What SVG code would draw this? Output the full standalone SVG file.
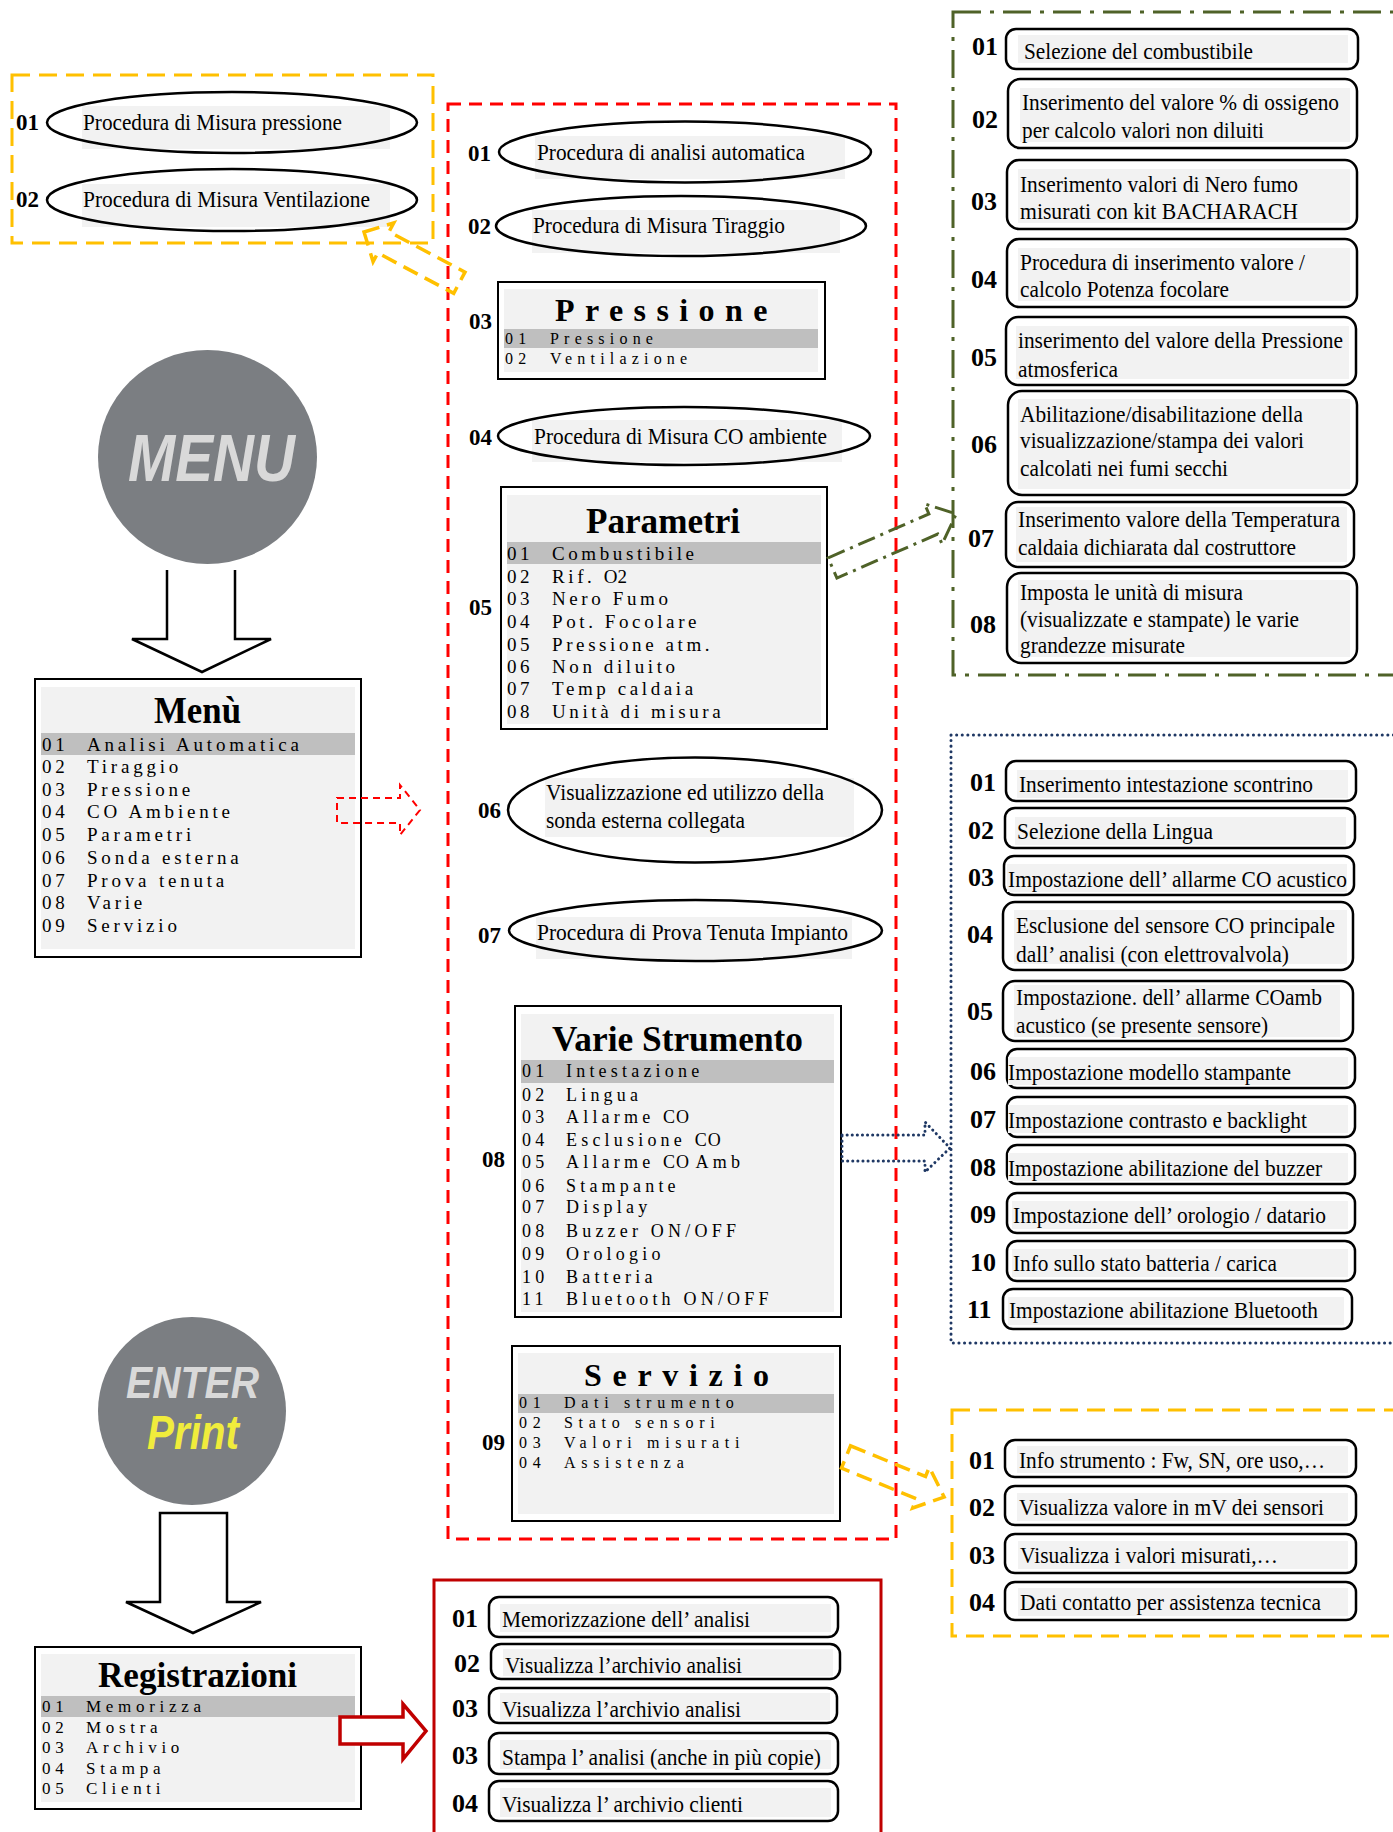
<svg xmlns="http://www.w3.org/2000/svg" width="1393" height="1832" viewBox="0 0 1393 1832">
<style>
.lbl{font-family:"Liberation Serif",serif;font-weight:bold;font-size:26px;fill:#000}
.lbs{font-family:"Liberation Serif",serif;font-weight:bold;font-size:23px;fill:#000}
.t{font-family:"Liberation Serif",serif;font-size:24px;fill:#000}
.box{fill:#fff;stroke:#000;stroke-width:2.5}
.tbg{fill:#f2f2f2}
.ellf{fill:#fff}
.ells{fill:none;stroke:#000;stroke-width:2.5}
.scr{fill:#fff;stroke:#000;stroke-width:2}
.hl{fill:#bfbfbf}
.row{font-family:"Liberation Serif",serif;fill:#000}
.ttl{font-family:"Liberation Serif",serif;font-weight:bold;fill:#000}
.ydash{fill:none;stroke:#FFC000;stroke-width:3;stroke-dasharray:18 9}
.rdash{fill:none;stroke:#FF0000;stroke-width:3;stroke-dasharray:13 8}
.gdd{fill:none;stroke:#4F6228;stroke-width:3;stroke-dasharray:28 9 4 9}
.bdot{fill:none;stroke:#1F3864;stroke-width:3;stroke-dasharray:0.1 5.5;stroke-linecap:round}
.btn{fill:#7b7e82}
.btxt{font-family:"Liberation Sans",sans-serif;font-weight:bold;font-style:italic}
</style>

<!-- container frames -->
<g id="frame-pressione-sub"><rect class="ydash" x="12" y="75" width="421" height="168"/></g>
<g id="frame-menu-items"><rect class="rdash" x="448" y="104" width="448" height="1435"/></g>
<g id="frame-parametri-sub"><rect class="gdd" x="953" y="12" width="470" height="663"/></g>
<g id="frame-varie-sub"><rect class="bdot" x="951" y="735" width="470" height="608"/></g>
<g id="frame-servizio-sub"><rect class="ydash" x="952" y="1410" width="470" height="226"/></g>
<g id="frame-registrazioni-sub"><rect fill="none" stroke="#C00000" stroke-width="3" x="434" y="1580" width="447" height="280"/></g>

<!-- top-left yellow: pressione sub-items -->
<g id="p01">
<ellipse class="ellf" cx="232" cy="122.5" rx="185" ry="30.5"/><rect class="tbg" x="82" y="106" width="308" height="43"/><ellipse class="ells" cx="232" cy="122.5" rx="185" ry="30.5"/>
<text class="t" x="83" y="130" textLength="259" lengthAdjust="spacingAndGlyphs">Procedura di Misura pressione</text>
<text class="lbs" x="16" y="130">01</text></g>
<g id="p02">
<ellipse class="ellf" cx="232" cy="200" rx="185" ry="31"/><rect class="tbg" x="82" y="184" width="308" height="43"/><ellipse class="ells" cx="232" cy="200" rx="185" ry="31"/>
<text class="t" x="83" y="207" textLength="287" lengthAdjust="spacingAndGlyphs">Procedura di Misura Ventilazione</text>
<text class="lbs" x="16" y="207">02</text></g>

<!-- MENU button -->
<g id="menu-button">
<ellipse class="btn" cx="207.5" cy="457" rx="109.5" ry="107"/>
<text class="btxt" x="128" y="481" font-size="66" fill="#d9d9d9" textLength="167" lengthAdjust="spacingAndGlyphs">MENU</text>
</g>

<!-- Menu screen -->
<g id="menu-screen">
<rect class="scr" x="35" y="679" width="326" height="278"/>
<rect class="tbg" x="41" y="687" width="314" height="262"/>
<rect class="hl" x="41" y="733" width="314" height="22"/>
<text class="ttl" x="154" y="723" font-size="37" textLength="87" lengthAdjust="spacingAndGlyphs">Menù</text>
<g class="row" font-size="19" letter-spacing="3.8">
<text x="42" y="751">01</text><text x="87" y="751">Analisi Automatica</text>
<text x="42" y="773">02</text><text x="87" y="773">Tiraggio</text>
<text x="42" y="796">03</text><text x="87" y="796">Pressione</text>
<text x="42" y="818">04</text><text x="87" y="818">CO  Ambiente</text>
<text x="42" y="841">05</text><text x="87" y="841">Parametri</text>
<text x="42" y="864">06</text><text x="87" y="864">Sonda  esterna</text>
<text x="42" y="887">07</text><text x="87" y="887">Prova tenuta</text>
<text x="42" y="909">08</text><text x="87" y="909">Varie</text>
<text x="42" y="932">09</text><text x="87" y="932">Servizio</text>
</g>
</g>

<!-- ENTER button -->
<g id="enter-button">
<circle class="btn" cx="192" cy="1411" r="94"/>
<text class="btxt" x="126" y="1398" font-size="44" fill="#d9d9d9" textLength="133" lengthAdjust="spacingAndGlyphs">ENTER</text>
<text class="btxt" x="147" y="1449" font-size="48" fill="#f0ec3c" textLength="92" lengthAdjust="spacingAndGlyphs">Print</text>
</g>

<!-- Registrazioni screen -->
<g id="registrazioni-screen">
<rect class="scr" x="35" y="1647" width="326" height="162"/>
<rect class="tbg" x="41" y="1654" width="314" height="148"/>
<rect class="hl" x="41" y="1696" width="314" height="21"/>
<text class="ttl" x="98" y="1687" font-size="35" textLength="199" lengthAdjust="spacingAndGlyphs">Registrazioni</text>
<g class="row" font-size="17" letter-spacing="4.7">
<text x="42" y="1712">01</text><text x="86" y="1712">Memorizza</text>
<text x="42" y="1733">02</text><text x="86" y="1733">Mostra</text>
<text x="42" y="1753">03</text><text x="86" y="1753">Archivio</text>
<text x="42" y="1774">04</text><text x="86" y="1774">Stampa</text>
<text x="42" y="1794">05</text><text x="86" y="1794">Clienti</text>
</g>
</g>

<!-- red column items -->
<g id="m01">
<ellipse class="ellf" cx="685" cy="152" rx="186" ry="30.5"/><rect class="tbg" x="535" y="136" width="310" height="43"/><ellipse class="ells" cx="685" cy="152" rx="186" ry="30.5"/>
<text class="t" x="537" y="160" textLength="268" lengthAdjust="spacingAndGlyphs">Procedura di analisi automatica</text>
<text class="lbs" x="468" y="161">01</text></g>
<g id="m02">
<ellipse class="ellf" cx="681" cy="226" rx="185" ry="30"/><rect class="tbg" x="532" y="210" width="308" height="43"/><ellipse class="ells" cx="681" cy="226" rx="185" ry="30"/>
<text class="t" x="533" y="233" textLength="252" lengthAdjust="spacingAndGlyphs">Procedura di Misura Tiraggio</text>
<text class="lbs" x="468" y="234">02</text></g>
<g id="m03-pressione">
<rect class="scr" x="498" y="282" width="327" height="97"/>
<rect class="tbg" x="504" y="289" width="314" height="83"/>
<rect class="hl" x="504" y="329" width="314" height="19"/>
<text class="ttl" x="555" y="321" font-size="32" letter-spacing="10.4">Pressione</text>
<g class="row" font-size="16" letter-spacing="5.2">
<text x="505" y="344">01</text><text x="550" y="344">Pressione</text>
<text x="505" y="364">02</text><text x="550" y="364">Ventilazione</text>
</g>
<text class="lbs" x="469" y="329">03</text></g>
<g id="m04">
<ellipse class="ellf" cx="684" cy="436" rx="186" ry="29"/><rect class="tbg" x="532" y="420" width="310" height="42"/><ellipse class="ells" cx="684" cy="436" rx="186" ry="29"/>
<text class="t" x="534" y="444" textLength="293" lengthAdjust="spacingAndGlyphs">Procedura di Misura CO ambiente</text>
<text class="lbs" x="469" y="445">04</text></g>
<g id="m05-parametri">
<rect class="scr" x="501" y="487" width="326" height="242"/>
<rect class="tbg" x="507" y="495" width="314" height="229"/>
<rect class="hl" x="507" y="542" width="314" height="22"/>
<text class="ttl" x="586" y="533" font-size="36" textLength="154" lengthAdjust="spacingAndGlyphs">Parametri</text>
<g class="row" font-size="19" letter-spacing="3.6">
<text x="507" y="560">01</text><text x="552" y="560">Combustibile</text>
<text x="507" y="583">02</text><text x="552" y="583">Rif.  <tspan letter-spacing="0">O2</tspan></text>
<text x="507" y="605">03</text><text x="552" y="605">Nero Fumo</text>
<text x="507" y="628">04</text><text x="552" y="628">Pot. Focolare</text>
<text x="507" y="651">05</text><text x="552" y="651">Pressione atm.</text>
<text x="507" y="673">06</text><text x="552" y="673">Non  diluito</text>
<text x="507" y="695">07</text><text x="552" y="695">Temp caldaia</text>
<text x="507" y="718">08</text><text x="552" y="718">Unità di misura</text>
</g>
<text class="lbs" x="469" y="615">05</text></g>
<g id="m06">
<ellipse class="ellf" cx="695" cy="810" rx="187" ry="52.5"/><rect class="tbg" x="545" y="778" width="309" height="59"/><ellipse class="ells" cx="695" cy="810" rx="187" ry="52.5"/>
<text class="t" x="546" y="800" textLength="278" lengthAdjust="spacingAndGlyphs">Visualizzazione ed utilizzo della</text>
<text class="t" x="546" y="828" textLength="199" lengthAdjust="spacingAndGlyphs">sonda esterna collegata</text>
<text class="lbs" x="478" y="818">06</text></g>
<g id="m07">
<ellipse class="ellf" cx="695.5" cy="930.5" rx="186.5" ry="30.5"/><rect class="tbg" x="536" y="917" width="316" height="42"/><ellipse class="ells" cx="695.5" cy="930.5" rx="186.5" ry="30.5"/>
<text class="t" x="537" y="940" textLength="311" lengthAdjust="spacingAndGlyphs">Procedura di Prova Tenuta Impianto</text>
<text class="lbs" x="478" y="943">07</text></g>
<g id="m08-varie">
<rect class="scr" x="515" y="1006" width="326" height="311"/>
<rect class="tbg" x="521" y="1014" width="313" height="298"/>
<rect class="hl" x="521" y="1060" width="313" height="23"/>
<text class="ttl" x="552" y="1051" font-size="36" textLength="251" lengthAdjust="spacingAndGlyphs">Varie Strumento</text>
<g class="row" font-size="18" letter-spacing="4.2">
<text x="522" y="1077">01</text><text x="566" y="1077">Intestazione</text>
<text x="522" y="1101">02</text><text x="566" y="1101">Lingua</text>
<text x="522" y="1123">03</text><text x="566" y="1123">Allarme  <tspan letter-spacing="1">CO</tspan></text>
<text x="522" y="1146">04</text><text x="566" y="1146">Esclusione  <tspan letter-spacing="1">CO</tspan></text>
<text x="522" y="1168">05</text><text x="566" y="1168">Allarme <tspan letter-spacing="1">CO </tspan>Amb</text>
<text x="522" y="1192">06</text><text x="566" y="1192">Stampante</text>
<text x="522" y="1213">07</text><text x="566" y="1213">Display</text>
<text x="522" y="1237">08</text><text x="566" y="1237">Buzzer ON/OFF</text>
<text x="522" y="1260">09</text><text x="566" y="1260">Orologio</text>
<text x="522" y="1283">10</text><text x="566" y="1283">Batteria</text>
<text x="522" y="1305">11</text><text x="566" y="1305">Bluetooth ON/OFF</text>
</g>
<text class="lbs" x="482" y="1167">08</text></g>
<g id="m09-servizio">
<rect class="scr" x="512" y="1346" width="328" height="175"/>
<rect class="tbg" x="518" y="1353" width="316" height="161"/>
<rect class="hl" x="518" y="1394" width="316" height="19"/>
<text class="ttl" x="584" y="1386" font-size="32" letter-spacing="10.7">Servizio</text>
<g class="row" font-size="16" letter-spacing="5.7">
<text x="519" y="1408">01</text><text x="564" y="1408">Dati  strumento</text>
<text x="519" y="1428">02</text><text x="564" y="1428">Stato sensori</text>
<text x="519" y="1448">03</text><text x="564" y="1448">Valori misurati</text>
<text x="519" y="1468">04</text><text x="564" y="1468">Assistenza</text>
</g>
<text class="lbs" x="482" y="1450">09</text></g>

<!-- green: parametri sub-items -->
<g id="g01"><rect class="box" x="1006" y="29" width="352" height="40" rx="10"/><rect class="tbg" x="1018" y="35" width="330" height="28"/>
<text class="t" x="1024" y="59" textLength="229" lengthAdjust="spacingAndGlyphs">Selezione del combustibile</text><text class="lbl" x="972" y="55">01</text></g>
<g id="g02"><rect class="box" x="1008" y="79" width="349" height="69" rx="12"/><rect class="tbg" x="1020" y="88" width="330" height="54"/>
<text class="t" x="1022" y="110" textLength="317" lengthAdjust="spacingAndGlyphs">Inserimento del valore % di ossigeno</text>
<text class="t" x="1022" y="138" textLength="242" lengthAdjust="spacingAndGlyphs">per calcolo valori non diluiti</text><text class="lbl" x="972" y="128">02</text></g>
<g id="g03"><rect class="box" x="1007" y="160" width="350" height="69" rx="12"/><rect class="tbg" x="1018" y="169" width="332" height="54"/>
<text class="t" x="1020" y="192" textLength="278" lengthAdjust="spacingAndGlyphs">Inserimento valori di Nero fumo</text>
<text class="t" x="1020" y="219" textLength="278" lengthAdjust="spacingAndGlyphs">misurati con kit  BACHARACH</text><text class="lbl" x="971" y="210">03</text></g>
<g id="g04"><rect class="box" x="1007" y="239" width="350" height="68" rx="12"/><rect class="tbg" x="1018" y="248" width="332" height="53"/>
<text class="t" x="1020" y="270" textLength="285" lengthAdjust="spacingAndGlyphs">Procedura di inserimento valore /</text>
<text class="t" x="1020" y="297" textLength="209" lengthAdjust="spacingAndGlyphs">calcolo Potenza focolare</text><text class="lbl" x="971" y="288">04</text></g>
<g id="g05"><rect class="box" x="1006" y="317" width="350" height="68" rx="12"/><rect class="tbg" x="1016" y="326" width="333" height="53"/>
<text class="t" x="1018" y="348" textLength="325" lengthAdjust="spacingAndGlyphs">inserimento del valore della Pressione</text>
<text class="t" x="1018" y="377" textLength="100" lengthAdjust="spacingAndGlyphs">atmosferica</text><text class="lbl" x="971" y="366">05</text></g>
<g id="g06"><rect class="box" x="1008" y="391" width="349" height="104" rx="14"/><rect class="tbg" x="1018" y="399" width="332" height="90"/>
<text class="t" x="1020" y="422" textLength="283" lengthAdjust="spacingAndGlyphs">Abilitazione/disabilitazione della</text>
<text class="t" x="1020" y="448" textLength="284" lengthAdjust="spacingAndGlyphs">visualizzazione/stampa dei valori</text>
<text class="t" x="1020" y="476" textLength="208" lengthAdjust="spacingAndGlyphs">calcolati nei fumi secchi</text><text class="lbl" x="971" y="453">06</text></g>
<g id="g07"><rect class="box" x="1006" y="502" width="348" height="65" rx="12"/><rect class="tbg" x="1016" y="507" width="331" height="55"/>
<text class="t" x="1018" y="527" textLength="322" lengthAdjust="spacingAndGlyphs">Inserimento valore della Temperatura</text>
<text class="t" x="1018" y="555" textLength="278" lengthAdjust="spacingAndGlyphs">caldaia dichiarata dal costruttore</text><text class="lbl" x="968" y="547">07</text></g>
<g id="g08"><rect class="box" x="1007" y="573" width="350" height="90" rx="14"/><rect class="tbg" x="1018" y="580" width="332" height="77"/>
<text class="t" x="1020" y="600" textLength="223" lengthAdjust="spacingAndGlyphs">Imposta le unità di misura</text>
<text class="t" x="1020" y="627" textLength="279" lengthAdjust="spacingAndGlyphs">(visualizzate e stampate) le varie</text>
<text class="t" x="1020" y="653" textLength="165" lengthAdjust="spacingAndGlyphs">grandezze misurate</text><text class="lbl" x="970" y="633">08</text></g>

<!-- blue: varie sub-items -->
<g id="v01"><rect class="box" x="1006" y="761" width="350" height="40" rx="10"/><rect class="tbg" x="1017" y="770" width="331" height="28"/>
<text class="t" x="1019" y="792" textLength="294" lengthAdjust="spacingAndGlyphs">Inserimento intestazione scontrino</text><text class="lbl" x="970" y="791">01</text></g>
<g id="v02"><rect class="box" x="1005" y="808" width="350" height="40" rx="10"/><rect class="tbg" x="1015" y="817" width="331" height="28"/>
<text class="t" x="1017" y="839" textLength="196" lengthAdjust="spacingAndGlyphs">Selezione della Lingua</text><text class="lbl" x="968" y="839">02</text></g>
<g id="v03"><rect class="box" x="1004" y="856" width="350" height="39" rx="10"/><rect class="tbg" x="1007" y="864" width="340" height="28"/>
<text class="t" x="1008" y="887" textLength="339" lengthAdjust="spacingAndGlyphs">Impostazione dell’ allarme CO acustico</text><text class="lbl" x="968" y="886">03</text></g>
<g id="v04"><rect class="box" x="1003" y="902" width="350" height="68" rx="12"/><rect class="tbg" x="1014" y="910" width="333" height="54"/>
<text class="t" x="1016" y="933" textLength="319" lengthAdjust="spacingAndGlyphs">Esclusione del sensore CO principale</text>
<text class="t" x="1016" y="962" textLength="273" lengthAdjust="spacingAndGlyphs">dall’ analisi (con elettrovalvola)</text><text class="lbl" x="967" y="943">04</text></g>
<g id="v05"><rect class="box" x="1003" y="981" width="350" height="60" rx="12"/><rect class="tbg" x="1014" y="985" width="326" height="52"/>
<text class="t" x="1016" y="1005" textLength="306" lengthAdjust="spacingAndGlyphs">Impostazione. dell’ allarme COamb</text>
<text class="t" x="1016" y="1033" textLength="252" lengthAdjust="spacingAndGlyphs">acustico (se presente sensore)</text><text class="lbl" x="967" y="1020">05</text></g>
<g id="v06"><rect class="box" x="1007" y="1049" width="348" height="39" rx="10"/><rect class="tbg" x="1008" y="1057" width="340" height="28"/>
<text class="t" x="1008" y="1080" textLength="283" lengthAdjust="spacingAndGlyphs">Impostazione modello stampante</text><text class="lbl" x="970" y="1080">06</text></g>
<g id="v07"><rect class="box" x="1007" y="1097" width="348" height="40" rx="10"/><rect class="tbg" x="1008" y="1105" width="340" height="28"/>
<text class="t" x="1008" y="1128" textLength="299" lengthAdjust="spacingAndGlyphs">Impostazione contrasto e backlight</text><text class="lbl" x="970" y="1128">07</text></g>
<g id="v08"><rect class="box" x="1007" y="1145" width="348" height="39" rx="10"/><rect class="tbg" x="1008" y="1153" width="340" height="28"/>
<text class="t" x="1008" y="1176" textLength="314" lengthAdjust="spacingAndGlyphs">Impostazione abilitazione del buzzer</text><text class="lbl" x="970" y="1176">08</text></g>
<g id="v09"><rect class="box" x="1007" y="1193" width="348" height="40" rx="10"/><rect class="tbg" x="1012" y="1201" width="336" height="28"/>
<text class="t" x="1013" y="1223" textLength="313" lengthAdjust="spacingAndGlyphs">Impostazione dell’ orologio / datario</text><text class="lbl" x="970" y="1223">09</text></g>
<g id="v10"><rect class="box" x="1007" y="1241" width="348" height="40" rx="10"/><rect class="tbg" x="1012" y="1249" width="336" height="28"/>
<text class="t" x="1013" y="1271" textLength="264" lengthAdjust="spacingAndGlyphs">Info sullo stato batteria / carica</text><text class="lbl" x="970" y="1271">10</text></g>
<g id="v11"><rect class="box" x="1003" y="1289" width="349" height="40" rx="10"/><rect class="tbg" x="1008" y="1297" width="336" height="28"/>
<text class="t" x="1009" y="1318" textLength="309" lengthAdjust="spacingAndGlyphs">Impostazione abilitazione Bluetooth</text><text class="lbl" x="967" y="1318">11</text></g>

<!-- yellow: servizio sub-items -->
<g id="s01"><rect class="box" x="1005" y="1440" width="351" height="37" rx="10"/><rect class="tbg" x="1017" y="1446" width="331" height="27"/>
<text class="t" x="1019" y="1468" textLength="306" lengthAdjust="spacingAndGlyphs">Info strumento : Fw, SN, ore uso,…</text><text class="lbl" x="969" y="1469">01</text></g>
<g id="s02"><rect class="box" x="1005" y="1486" width="351" height="39" rx="10"/><rect class="tbg" x="1017" y="1493" width="331" height="28"/>
<text class="t" x="1019" y="1515" textLength="305" lengthAdjust="spacingAndGlyphs">Visualizza valore in mV dei sensori</text><text class="lbl" x="969" y="1516">02</text></g>
<g id="s03"><rect class="box" x="1005" y="1534" width="351" height="39" rx="10"/><rect class="tbg" x="1018" y="1541" width="330" height="28"/>
<text class="t" x="1020" y="1563" textLength="258" lengthAdjust="spacingAndGlyphs">Visualizza i valori misurati,…</text><text class="lbl" x="969" y="1564">03</text></g>
<g id="s04"><rect class="box" x="1005" y="1582" width="351" height="38" rx="10"/><rect class="tbg" x="1018" y="1588" width="330" height="28"/>
<text class="t" x="1020" y="1610" textLength="301" lengthAdjust="spacingAndGlyphs">Dati contatto per assistenza tecnica</text><text class="lbl" x="969" y="1611">04</text></g>

<!-- dark red: registrazioni sub-items -->
<g id="r01"><rect class="box" x="489" y="1597" width="349" height="40" rx="10"/><rect class="tbg" x="500" y="1604" width="331" height="28"/>
<text class="t" x="502" y="1627" textLength="248" lengthAdjust="spacingAndGlyphs">Memorizzazione dell’ analisi</text><text class="lbl" x="452" y="1627">01</text></g>
<g id="r02"><rect class="box" x="491" y="1644" width="349" height="35" rx="10"/><rect class="tbg" x="503" y="1649" width="330" height="27"/>
<text class="t" x="505" y="1673" textLength="237" lengthAdjust="spacingAndGlyphs">Visualizza l’archivio analisi</text><text class="lbl" x="454" y="1672">02</text></g>
<g id="r03"><rect class="box" x="489" y="1688" width="348" height="35" rx="10"/><rect class="tbg" x="500" y="1693" width="330" height="27"/>
<text class="t" x="502" y="1717" textLength="239" lengthAdjust="spacingAndGlyphs">Visualizza l’archivio analisi</text><text class="lbl" x="452" y="1717">03</text></g>
<g id="r04"><rect class="box" x="489" y="1733" width="349" height="41" rx="10"/><rect class="tbg" x="500" y="1740" width="331" height="29"/>
<text class="t" x="502" y="1765" textLength="319" lengthAdjust="spacingAndGlyphs">Stampa l’ analisi (anche in più copie)</text><text class="lbl" x="452" y="1764">03</text></g>
<g id="r05"><rect class="box" x="489" y="1781" width="349" height="40" rx="10"/><rect class="tbg" x="500" y="1788" width="331" height="29"/>
<text class="t" x="502" y="1812" textLength="241" lengthAdjust="spacingAndGlyphs">Visualizza l’ archivio clienti</text><text class="lbl" x="452" y="1812">04</text></g>

<!-- connectors -->
<g id="connectors">
<path d="M167,570 V639 H132 L202,672 L271,639 H235 V570" fill="#fff" stroke="#000" stroke-width="2.5" stroke-linejoin="miter"/>
<polygon points="160,1513 227,1513 227,1602 261,1602 193,1633 126,1602 160,1602" fill="#fff" stroke="#000" stroke-width="2.5"/>
<polygon points="337,798 400,798 400,785 420,810 400,835 400,823 337,823" fill="none" stroke="#FF0000" stroke-width="2" stroke-dasharray="7 5"/>
<polygon points="340,1717 403,1717 403,1704 426,1731 403,1759 403,1744 340,1744" fill="#fff" stroke="#C00000" stroke-width="3.5"/>
<polygon points="0,0 22,-22 22,-12 108,-12 108,12 22,12 22,22" transform="translate(364,232) rotate(28)" fill="none" stroke="#FFC000" stroke-width="3.5" stroke-dasharray="16 8"/>
<polygon points="0,-11 110,-11 110,-22 135,0 110,22 110,11 0,11" transform="translate(832.5,568) rotate(-23.6)" fill="none" stroke="#4F6228" stroke-width="3" stroke-dasharray="18 6 3 6"/>
<polygon points="842,1135 925,1135 925,1122 950,1148 925,1172 925,1161 842,1161" fill="none" stroke="#1F3864" stroke-width="3" stroke-dasharray="0.1 5" stroke-linecap="round"/>
<polygon points="0,-12 81,-12 81,-22 106,0 81,22 81,12 0,12" transform="translate(846,1457) rotate(22.2)" fill="none" stroke="#FFC000" stroke-width="3.5" stroke-dasharray="16 8"/>
</g>
</svg>
